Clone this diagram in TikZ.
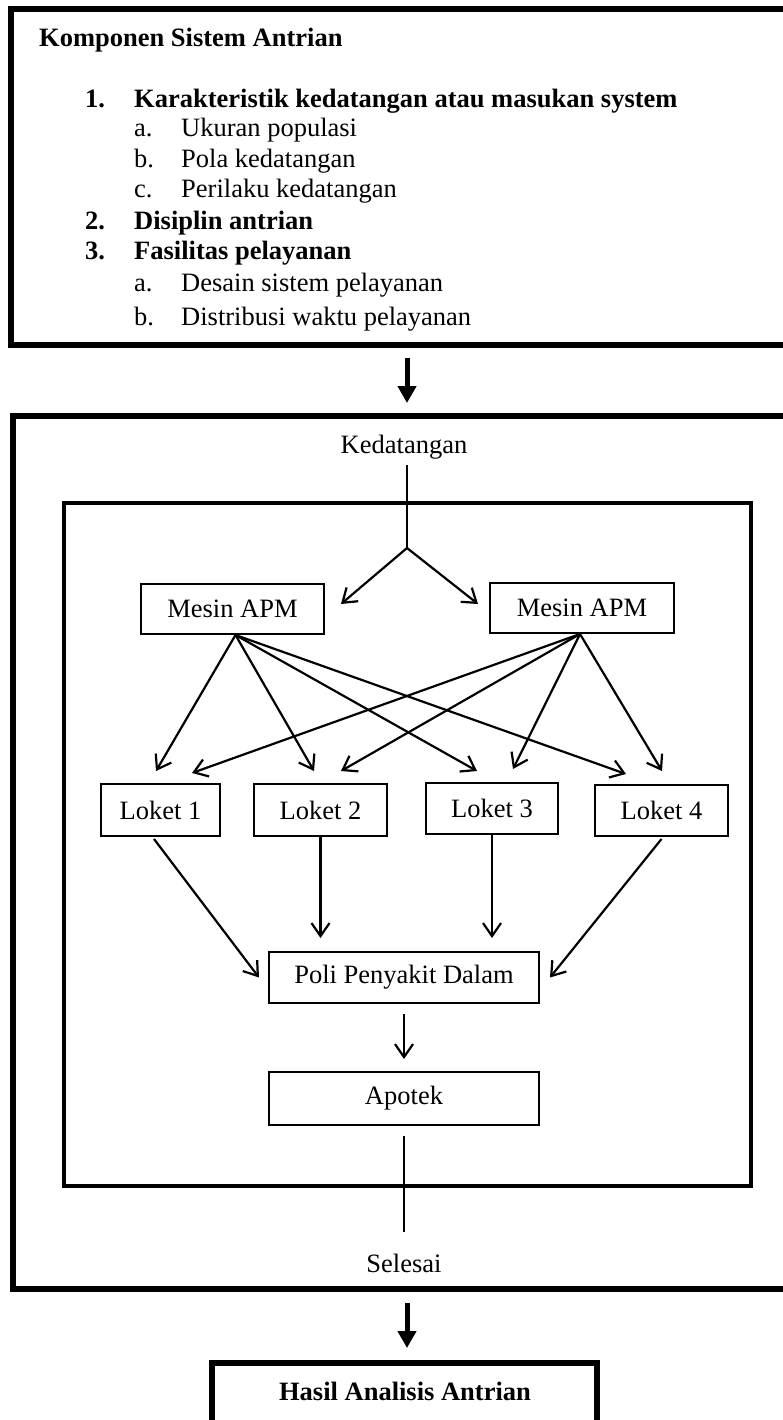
\documentclass[tikz,border=0pt]{standalone}
\usepackage{fontspec}
\setmainfont{Liberation Serif}
\usetikzlibrary{arrows.meta,calc}
\begin{document}
\begin{tikzpicture}[x=1pt,y=-1pt,
  txt/.style={font=\fontsize{26.5}{30}\selectfont, inner sep=0pt},
  btxt/.style={font=\fontsize{26.5}{30}\selectfont\bfseries, inner sep=0pt},
  bigbox/.style={draw, line width=6pt, inner sep=0pt},
  inbox/.style={draw, line width=3.5pt, inner sep=0pt},
  smbox/.style={draw, line width=2pt, inner sep=0pt, font=\fontsize{26.5}{30}\selectfont},
  arr/.style={line width=2.2pt, -{Straight Barb[length=13pt,width=18pt,line width=2.2pt]}},
  bigarr/.style={line width=5pt, -{Triangle[length=17pt,width=18pt]}},
  ln/.style={line width=2pt}]
\useasboundingbox (0,0) rectangle (783,1420);
\clip (0,0) rectangle (783,1420);

% top box
\node[bigbox, minimum width=789pt, minimum height=336pt] (topbox) at (405.5,177) {};
\node[btxt, anchor=base west] (title) at (39,47) {Komponen Sistem Antrian};
\node[btxt, anchor=base west] (n1) at (85,108) {1.};
\node[btxt, anchor=base west] (i1) at (134,108) {Karakteristik kedatangan atau masukan system};
\node[txt, anchor=base west] (a1) at (134,137) {a.};
\node[txt, anchor=base west] (a1t) at (181,137) {Ukuran populasi};
\node[txt, anchor=base west] (b1) at (134,168) {b.};
\node[txt, anchor=base west] (b1t) at (181,168) {Pola kedatangan};
\node[txt, anchor=base west] (c1) at (134,198) {c.};
\node[txt, anchor=base west] (c1t) at (181,198) {Perilaku kedatangan};
\node[btxt, anchor=base west] (n2) at (85,230) {2.};
\node[btxt, anchor=base west] (i2) at (134,230) {Disiplin antrian};
\node[btxt, anchor=base west] (n3) at (85,260) {3.};
\node[btxt, anchor=base west] (i3) at (134,260) {Fasilitas pelayanan};
\node[txt, anchor=base west] (a3) at (134,292) {a.};
\node[txt, anchor=base west] (a3t) at (181,292) {Desain sistem pelayanan};
\node[txt, anchor=base west] (b3) at (134,325) {b.};
\node[txt, anchor=base west] (b3t) at (181,325) {Distribusi waktu pelayanan};

% middle box
\node[bigbox, minimum width=787pt, minimum height=873pt] (midbox) at (406.5,852.5) {};
\node[inbox, minimum width=687pt, minimum height=683pt] (inner) at (407.5,844.5) {};
\node[txt, anchor=base] (ked) at (404,453) {Kedatangan};
\coordinate (split) at (407,548);

\draw[bigarr, shorten <=10pt, shorten >=10pt] (topbox.south -| split) -- (midbox.north -| split);

\draw[ln, shorten <=6pt] (ked.south -| split) -- (split);

\node[smbox, minimum width=183pt, minimum height=50pt] (m1) at (232.5,609) {Mesin APM};
\node[smbox, minimum width=184pt, minimum height=50pt] (m2) at (582,608) {Mesin APM};
\draw[arr] (split) -- ([xshift=16pt,yshift=-21pt]m1.north east);
\draw[arr] (split) -- ([xshift=-11pt,yshift=-22pt]m2.north west);

\node[smbox, minimum width=119pt, minimum height=52pt] (l1) at (160.5,810) {Loket 1};
\node[smbox, minimum width=133pt, minimum height=52pt] (l2) at (320.5,810) {Loket 2};
\node[smbox, minimum width=132pt, minimum height=51pt] (l3) at (492,808.5) {Loket 3};
\node[smbox, minimum width=133pt, minimum height=51pt] (l4) at (661.5,810.5) {Loket 4};

\coordinate (s1) at ([xshift=3pt]m1.south);
\coordinate (s2) at ([xshift=-2pt]m2.south);
\draw[arr] (s1) -- ([xshift=-4.5pt,yshift=12pt]l1.north);
\draw[arr] (s1) -- ([xshift=-6.5pt,yshift=12pt]l2.north);
\draw[arr] (s1) -- ([xshift=-15pt,yshift=11pt]l3.north);
\draw[arr] (s1) -- ([xshift=-35.5pt,yshift=10pt]l4.north);
\draw[arr] (s2) -- ([xshift=31.5pt,yshift=10pt]l1.north);
\draw[arr] (s2) -- ([xshift=20.5pt,yshift=12pt]l2.north);
\draw[arr] (s2) -- ([xshift=21pt,yshift=13pt]l3.north);
\draw[arr] (s2) -- ([xshift=0.5pt,yshift=13pt]l4.north);

\node[smbox, minimum width=270pt, minimum height=51pt] (poli) at (404,977.5) {Poli Penyakit Dalam};
\node[smbox, minimum width=270pt, minimum height=53pt] (apotek) at (404,1098.5) {Apotek};

\draw[arr] ([xshift=-6.5pt,yshift=-2pt]l1.south) -- ([xshift=-9pt]poli.west);
\draw[arr] (l2.south) -- ($(poli.north -| l2.south)+(0,-13)$);
\draw[arr] (l3.south) -- ($(poli.north -| l3.south)+(0,-13)$);
\draw[arr] ([yshift=-2pt]l4.south) -- ([xshift=10pt]poli.east);
\draw[arr, shorten <=10pt, shorten >=12pt] (poli.south) -- (apotek.north);

\node[txt, anchor=base] (sel) at (404,1272) {Selesai};
\draw[ln, shorten <=10pt, shorten >=21pt] (apotek.south) -- (sel.north);

% bottom box
\node[bigbox, minimum width=385pt, minimum height=87pt] (botbox) at (404.5,1406.5) {};
\node[btxt, anchor=base] (hasil) at (405,1400) {Hasil Analisis Antrian};
\draw[bigarr, shorten <=11pt, shorten >=12pt] (midbox.south -| split) -- (botbox.north -| split);
\end{tikzpicture}
\end{document}
